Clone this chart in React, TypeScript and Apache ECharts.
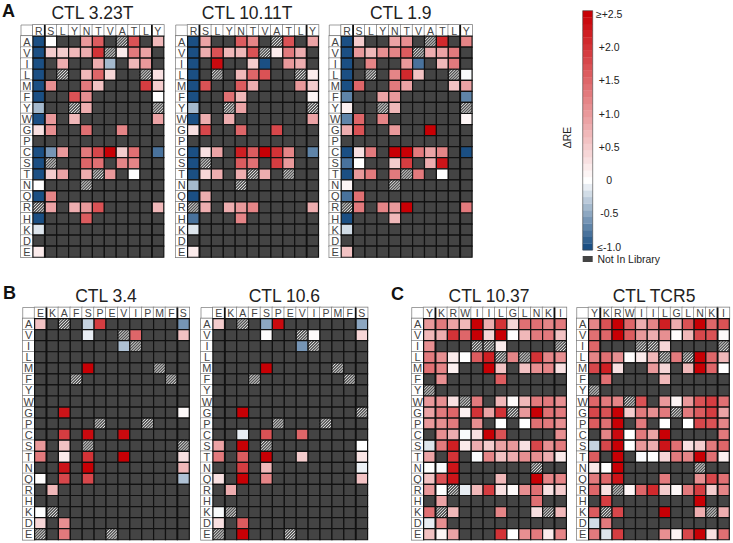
import React, { useEffect, useRef } from "react";
import * as echarts from "echarts";

const _ = null;
const X = "h";

const residues = ["A","V","I","L","M","F","Y","W","G","P","C","S","T","N","Q","R","H","K","D","E"];
const colsA = ["R","S","L","Y","N","T","V","A","T","L","Y"];
const colsB = ["E","K","A","F","S","P","E","V","I","P","M","F","S"];
const colsC = ["Y","K","R","W","I","I","L","G","L","N","K","I"];

const ctl323T = [
  [-1,0,_,_,1.0,1.6,_,X,1.7,_,0.7],
  [-1,0.5,0.5,0.7,0.8,2.0,X,0.2,1.3,0.9,_],
  [-1,_,0.8,_,_,0.8,-0.4,_,0.7,1.0,_],
  [-1,_,X,_,0.7,1.5,0.4,_,_,X,0.3],
  [-1,1.1,_,_,1.3,0.6,_,_,_,1.9,0.5],
  [-1,_,_,1.7,1.1,_,_,_,_,_,0],
  [-0.4,_,_,X,0.8,_,_,_,_,_,X],
  [-1,1.0,_,0.7,_,_,_,_,_,_,0.9],
  [0.3,1.1,_,_,1.4,_,_,1.2,_,_,_],
  [_,_,_,_,_,_,_,_,_,_,_],
  [-1,-0.6,1.0,_,1.3,1.8,2.5,0.5,1.4,_,-0.8],
  [-1,X,_,_,1.5,1.4,_,1.2,1.2,_,_],
  [-1,0.5,0.9,_,0.8,X,1.0,_,0,_,_],
  [0,_,_,_,X,_,_,_,_,_,_],
  [-1,1.2,_,_,_,_,_,_,_,_,_],
  [X,0.9,_,0.8,1.0,1.7,_,_,_,_,0.7],
  [-1,_,_,_,1.6,_,_,_,_,_,_],
  [-0.15,_,_,_,_,_,_,_,_,_,_],
  [_,_,_,_,_,_,_,_,_,_,_],
  [0.2,_,_,_,_,_,_,_,_,_,_],
];
const ctl1011T = [
  [-1,0.9,_,_,1.6,1.2,_,X,1.7,_,0.9],
  [-1,0.8,1.7,0.7,0.7,1.7,X,0.2,1.3,0.8,_],
  [-1,_,2.4,_,_,0.5,-1,_,1.0,0.8,_],
  [-1,_,X,_,0.7,1.5,1.7,_,_,X,0.2],
  [-1,1.7,_,_,1.6,0.8,_,_,_,1.0,0.5],
  [-1,_,_,1.4,0.7,_,_,_,_,_,0.1],
  [-0.4,_,_,X,0.9,_,_,_,_,_,X],
  [-1,0.8,_,0.8,_,_,_,_,_,_,0.9],
  [0.3,1.8,_,_,1.5,_,_,1.8,_,_,_],
  [_,_,_,_,_,_,_,_,_,_,_],
  [-1,0.3,0.9,_,2.2,1.6,2.5,2.0,1.2,_,-0.7],
  [-1,X,_,_,1.6,1.4,_,1.9,1.0,_,_],
  [-1,0.4,0.8,_,0.8,X,0.8,_,X,_,_],
  [-0.4,_,_,_,X,_,_,_,_,_,_],
  [-1,0.8,_,_,_,_,_,_,_,_,_],
  [X,0.8,_,0.8,1.0,1.2,_,_,_,_,0.8],
  [-0.8,_,_,_,1.2,_,_,_,_,_,_],
  [-0.15,_,_,_,_,_,_,_,_,_,_],
  [_,_,_,_,_,_,_,_,_,_,_],
  [0.2,_,_,_,_,_,_,_,_,_,_],
];
const ctl19 = [
  [-1,0.5,_,_,0.9,1.1,_,X,2.1,_,1.2],
  [-1,1.0,0.7,1.1,1.2,1.6,X,0.8,0.9,1.3,_],
  [-1,_,1.2,_,_,1.0,-0.8,_,0.7,1.3,_],
  [-1,_,X,_,1.2,2.1,0.6,_,_,X,-0.03],
  [-1,1.5,_,_,1.3,0.9,_,_,_,0.6,0.9],
  [-0.7,_,_,0.9,1.0,_,_,_,_,_,-0.7],
  [0.15,_,_,X,0.7,_,_,_,_,_,X],
  [-0.7,1.5,_,1.2,_,_,_,_,_,_,0.1],
  [0.8,1.7,_,_,1.0,_,_,2.5,_,_,_],
  [_,_,_,_,_,_,_,_,_,_,_],
  [-1,0.3,1.3,_,2.5,2.5,1.3,0.9,1.2,_,-1],
  [-0.8,0,_,_,0.5,1.9,_,0.8,2.3,_,_],
  [-1,1.0,1.3,_,1.3,X,1.3,_,0,_,_],
  [0.1,_,_,_,X,_,_,_,_,_,_],
  [-0.8,1.4,_,_,_,_,_,_,_,_,_],
  [X,1.3,_,1.2,1.0,2.5,_,_,_,_,1.3],
  [-1,_,_,_,0.7,_,_,_,_,_,_],
  [-0.2,_,_,_,_,_,_,_,_,_,_],
  [_,_,_,_,_,_,_,_,_,_,_],
  [0.6,_,_,_,_,_,_,_,_,_,_],
];
const ctl34 = [
  [0.6,_,X,_,-0.25,1.9,_,_,_,_,_,_,-0.6],
  [_,_,_,_,-0.1,_,_,X,1.5,_,_,_,0.6],
  [_,_,_,_,_,_,_,-0.35,X,_,_,_,_],
  [_,_,_,_,_,_,_,_,_,_,_,_,_],
  [_,_,_,_,2.5,_,_,_,_,_,X,_,_],
  [_,_,_,X,_,_,_,_,_,_,_,X,_],
  [_,_,_,_,_,_,_,_,_,_,_,_,_],
  [_,_,_,_,_,_,_,_,_,_,_,_,_],
  [_,_,2.3,_,_,_,_,_,_,_,_,_,0.05],
  [_,_,_,_,_,X,_,_,_,X,_,_,_],
  [_,_,1.9,_,2.4,_,_,2.4,_,_,_,_,_],
  [1.0,_,0.6,_,X,_,_,_,_,_,_,_,X],
  [1.3,_,0.2,_,2.0,_,_,2.5,_,_,_,_,0.3],
  [_,_,2.3,_,2.5,_,_,_,_,_,_,_,0.7],
  [0.02,_,1.8,_,1.8,_,_,_,_,_,_,_,-0.35],
  [_,0.7,_,_,_,_,_,_,_,_,_,_,_],
  [_,_,_,_,_,_,_,_,_,_,_,_,_],
  [0,X,_,_,_,_,_,_,_,_,_,_,_],
  [0.4,_,1.1,_,_,_,_,_,_,_,_,_,_],
  [X,_,1.3,_,_,_,X,_,_,_,_,_,_],
];
const ctl106 = [
  [0.5,_,X,_,-0.5,2.4,_,_,_,_,_,_,-0.5],
  [_,_,_,_,0.03,_,_,X,0.05,_,_,_,0.4],
  [_,_,_,_,_,_,_,-0.6,X,_,_,_,_],
  [_,_,_,_,_,_,_,_,_,_,_,_,_],
  [_,_,_,_,2.5,_,_,_,_,_,X,_,_],
  [_,_,_,X,_,_,_,_,_,_,_,X,_],
  [_,_,_,_,_,_,_,_,_,_,_,_,_],
  [_,_,_,_,_,_,_,_,_,_,_,_,_],
  [_,_,2.5,_,_,_,_,_,_,_,_,_,X],
  [_,_,_,_,_,X,_,_,_,X,_,_,_],
  [_,_,-0.1,_,1.7,_,_,1.5,_,_,_,_,_],
  [0.9,_,2.5,_,X,_,_,_,_,_,_,_,0],
  [1.3,_,1.6,_,2.5,_,_,0.5,_,_,_,_,0.25],
  [_,_,1.9,_,0.7,_,_,_,_,_,_,_,-0.08],
  [0.3,_,2.5,_,1.2,_,_,_,_,_,_,_,0.6],
  [_,0.8,_,_,_,_,_,_,_,_,_,_,_],
  [_,_,_,_,_,_,_,_,_,_,_,_,_],
  [-0.03,X,_,_,_,_,_,_,_,_,_,_,_],
  [0.3,_,1.6,_,_,_,_,_,_,_,_,_,_],
  [X,_,2.5,_,_,_,X,_,_,_,_,_,_],
];
const ctl1037 = [
  [1.0,1.3,0.9,0.7,2.5,0.8,2.0,0.4,1.4,1.4,1.2,1.3],
  [0.7,0.8,2.0,1.5,2.5,0.4,2.5,0,0.7,1.3,1.3,0.6],
  [1.1,_,_,_,X,X,0.2,_,_,_,_,X],
  [1.3,1.1,0.2,0,1.6,2.2,X,1.2,X,2.0,1.2,1.1],
  [1.4,1.2,0.15,_,_,2.5,0.6,_,0.6,1.1,1.2,0.3],
  [_,1.1,_,_,_,_,1.6,_,_,_,_,_],
  [X,_,_,_,_,_,_,_,_,_,_,_],
  [1.0,1.1,0.3,X,1.3,_,0.7,0.05,0.7,1.3,1.3,1.1],
  [0.9,1.3,1.5,0.15,2.0,0.9,2.0,X,1.0,2.5,1.4,1.3],
  [1.0,1.1,1.3,_,1.1,_,0,_,0,1.4,1.3,1.1],
  [_,1.1,0.8,-0.03,0.3,2.5,1.7,_,_,_,_,1.1],
  [-0.15,1.3,2.2,0.2,0.8,0.5,0.9,1.0,0.3,1.8,1.1,1.3],
  [0.9,_,2.0,_,-0.02,1.2,0.6,0.8,1.1,1.1,0.8,0.2],
  [0,-0.02,2.3,_,_,_,_,_,_,X,_,_],
  [0.6,1.7,2.3,_,_,_,0.7,_,_,2.5,1.2,1.2],
  [1.0,0,X,-0.1,0.7,1.9,0.3,0.05,1.1,1.4,0.3,0.5],
  [_,0.9,_,_,_,_,_,_,_,1.4,_,_],
  [1.4,X,0.7,_,_,_,1.2,_,_,0.3,X,0.7],
  [-0.1,1.1,_,_,_,_,_,_,_,_,_,_],
  [0.6,0.1,0.9,_,_,_,2.0,0,1.1,1.3,0.2,1.2],
];
const ctlTCR5 = [
  [1.2,1.7,2.5,1.5,0.8,1.2,2.2,0.8,1.7,2.5,1.5,1.7],
  [1.4,1.5,2.5,1.6,1.0,0.8,1.1,0.02,0.7,1.8,1.7,0.05],
  [1.5,_,_,_,X,X,0.4,_,_,_,_,X],
  [1.2,1.4,1.1,0.02,0.2,0.7,X,1.3,X,2.5,1.5,0.7],
  [1.8,2.2,0.3,_,_,1.0,0.4,_,0.7,2.5,1.5,0],
  [_,1.4,_,_,_,_,0.7,_,_,_,_,_],
  [X,_,_,_,_,_,_,_,_,_,_,_],
  [1.5,1.3,1.2,X,1.7,_,1.0,0.1,1.0,1.7,1.9,1.4],
  [1.8,1.7,2.5,0.5,1.3,1.1,1.3,X,1.3,1.6,1.9,0.9],
  [1.6,1.4,2.5,_,1.3,_,0,_,0,1.8,1.7,1.2],
  [_,1.2,2.4,0,1.3,0.9,2.5,_,_,_,_,1.3],
  [-0.25,1.8,2.5,0,1.0,0.8,2.3,1.4,0.3,0.5,1.3,1.5],
  [1.6,_,2.5,_,-0.02,0,0.4,1.3,1.2,2.5,1.4,0.15],
  [0.25,0,2.5,_,_,_,_,_,_,X,_,_],
  [1.3,1.5,2.3,_,_,_,1.3,_,_,1.1,1.8,1.4],
  [1.5,0.3,X,0.1,1.5,2.1,0.5,0.08,1.3,1.9,0.5,1.2],
  [_,1.9,_,_,_,_,_,_,_,2.5,_,_],
  [1.6,X,1.8,_,_,_,2.5,_,_,0.8,X,0.8],
  [-0.2,1.3,_,_,_,_,_,_,_,_,_,_],
  [1.3,-0.15,1.9,_,_,_,1.1,0.1,1.8,2.5,0.3,1.4],
];

const legendSteps = [-1,-0.9,-0.8,-0.7,-0.6,-0.5,-0.4,-0.3,-0.2,-0.1,0,0.1,0.2,0.3,0.4,0.5,0.6,0.7,0.8,0.9,1,1.1,1.2,1.3,1.4,1.5,1.6,1.7,1.8,1.9,2,2.1,2.2,2.3,2.4,2.5];
const legendTicks = ["≤-1.0","-0.5","0","+0.5","+1.0","+1.5","+2.0","≥+2.5"];

const FONT = "'Liberation Sans', Arial, sans-serif";
const CW = 11.9;
const CH = 11.06;
const NOT_IN_LIBRARY = "#444444";

const panels = [
  { title: "CTL 3.23T", cols: colsA, rows: ctl323T, left: 21, top: 25, seps: [0, 9] },
  { title: "CTL 10.11T", cols: colsA, rows: ctl1011T, left: 175.7, top: 25, seps: [0, 9] },
  { title: "CTL 1.9", cols: colsA, rows: ctl19, left: 329.3, top: 25, seps: [0, 9] },
  { title: "CTL 3.4", cols: colsB, rows: ctl34, left: 22.7, top: 307.5, seps: [0, 11] },
  { title: "CTL 10.6", cols: colsB, rows: ctl106, left: 201, top: 307.5, seps: [0, 11] },
  { title: "CTL 10.37", cols: colsC, rows: ctl1037, left: 411.7, top: 307.5, seps: [0, 10] },
  { title: "CTL TCR5", cols: colsC, rows: ctlTCR5, left: 576.7, top: 307.5, seps: [0, 10] },
];

function colorOf(v: number): string {
  const mix = (t: number, c: number[]) =>
    `rgb(${c.map((k) => Math.round(255 + (k - 255) * t)).join(",")})`;
  return v >= 0
    ? mix(Math.min(v / 2.5, 1), [200, 0, 5])
    : mix(Math.min(-v, 1), [27, 79, 131]);
}

function hatchLines(x: number, y: number, w: number, h: number) {
  const out: any[] = [];
  for (let s = 1.4; s < w + h; s += 2.9) {
    const ax = Math.min(s, w);
    const by = Math.min(s, h);
    out.push({
      type: "line",
      shape: { x1: x + ax, y1: y + s - ax, x2: x + s - by, y2: y + by },
      style: { stroke: "#e4e4e4", lineWidth: 1 },
      silent: true,
    });
  }
  return out;
}

function cellItem(params: any, api: any) {
  const p = api.coord([api.value(0), api.value(1)]);
  const s = api.size([1, 1]);
  const x = p[0] - s[0] / 2;
  const y = p[1] - s[1] / 2;
  const kind = api.value(3);
  const fill = kind === 0 ? colorOf(api.value(2)) : NOT_IN_LIBRARY;
  const rect = {
    type: "rect",
    shape: { x, y, width: s[0], height: s[1] },
    style: { fill, stroke: "#111111", lineWidth: 1.2 },
  };
  if (kind !== 2) return rect;
  return {
    type: "group",
    children: [
      { type: "rect", shape: rect.shape, style: { fill: "#555555" } },
      ...hatchLines(x, y, s[0], s[1]),
      { type: "rect", shape: rect.shape, style: { fill: "none", stroke: "#111111", lineWidth: 1.2 } },
    ],
  };
}

function sepItem(params: any, api: any) {
  const p = api.coord([api.value(0), 0]);
  const s = api.size([1, 1]);
  const x = p[0] + s[0] / 2;
  const top = p[1] - s[1] * 1.5;
  const bottom = top + s[1] * 21;
  return {
    type: "line",
    shape: { x1: x, y1: top, x2: x, y2: bottom },
    style: { stroke: "#111111", lineWidth: 1.8 },
  };
}

function stepItem(params: any, api: any) {
  const p = api.coord([0, api.value(1)]);
  const s = api.size([1, 0.1]);
  return {
    type: "rect",
    shape: { x: p[0] - s[0] / 2, y: p[1] - s[1] / 2, width: s[0], height: s[1] + 0.3 },
    style: { fill: colorOf(api.value(1)) },
  };
}

function buildOption() {
  const grid: any[] = [];
  const xAxis: any[] = [];
  const yAxis: any[] = [];
  const series: any[] = [];
  const title: any[] = [];
  const graphic: any[] = [];
  const boxLabel = {
    interval: 0,
    color: "#444444",
    fontFamily: FONT,
    fontSize: 10.5,
    width: CW,
    height: CH,
    lineHeight: CH,
    align: "center",
    verticalAlign: "middle",
    backgroundColor: "#ffffff",
    borderColor: "#777777",
    borderWidth: 0.7,
    padding: 0,
    overflow: "none",
  };
  panels.forEach((pn, i) => {
    const n = pn.cols.length;
    grid.push({
      left: pn.left + CW,
      top: pn.top + CH,
      width: n * CW,
      height: 20 * CH,
      show: false,
    });
    xAxis.push({
      type: "category",
      gridIndex: i,
      position: "top",
      data: pn.cols.map((c, k) => ({ value: `${c}${k}` })),
      axisLine: { show: false },
      axisTick: { show: false },
      splitLine: { show: false },
      axisLabel: {
        ...boxLabel,
        margin: 0,
        verticalAlign: "bottom",
        formatter: (v: string) => v[0],
      },
    });
    yAxis.push({
      type: "category",
      gridIndex: i,
      inverse: true,
      data: residues,
      axisLine: { show: false },
      axisTick: { show: false },
      splitLine: { show: false },
      axisLabel: { ...boxLabel, margin: CW / 2, fontSize: 11 },
    });
    const data: any[] = [];
    pn.rows.forEach((row: any[], r) =>
      row.forEach((v, c) => {
        if (v === _) data.push([c, r, 0, 1]);
        else if (v === X) data.push([c, r, 0, 2]);
        else data.push([c, r, v, 0]);
      })
    );
    series.push({
      type: "custom",
      xAxisIndex: i,
      yAxisIndex: i,
      renderItem: cellItem,
      data,
      silent: true,
      z: 5,
    });
    series.push({
      type: "custom",
      xAxisIndex: i,
      yAxisIndex: i,
      renderItem: sepItem,
      data: pn.seps.map((c) => [c]),
      silent: true,
      z: 6,
    });
    title.push({
      text: pn.title,
      left: pn.left + ((n + 1) * CW) / 2,
      top: pn.top - (i < 3 ? 21 : 21),
      textAlign: "center",
      textStyle: { fontFamily: FONT, fontSize: 17.5, fontWeight: "normal", color: "#222222" },
      padding: 0,
    });
    graphic.push({
      type: "rect",
      shape: { x: pn.left, y: pn.top, width: CW, height: CH },
      style: { fill: "#ffffff", stroke: "#777777", lineWidth: 0.7 },
      silent: true,
    });
  });

  [["A", 2, 2], ["B", 3, 284], ["C", 391, 285]].forEach(([text, left, top]) => {
    title.push({
      text,
      left,
      top,
      padding: 0,
      textStyle: { fontFamily: FONT, fontSize: 18, fontWeight: "bold", color: "#111111" },
    });
  });

  const bar = grid.length;
  grid.push({ left: 582.7, width: 10, top: 14, height: 232.7, show: false });
  xAxis.push({ type: "category", gridIndex: bar, data: [""], show: false });
  yAxis.push({
    type: "value",
    gridIndex: bar,
    position: "right",
    min: -1,
    max: 2.5,
    interval: 0.5,
    axisLine: { show: false },
    axisTick: { show: false },
    splitLine: { show: false },
    axisLabel: {
      margin: 16.5,
      align: "center",
      color: "#222222",
      fontFamily: FONT,
      fontSize: 10.5,
      formatter: (v: number) => legendTicks[Math.round((v + 1) * 2)],
    },
  });
  series.push({
    type: "custom",
    xAxisIndex: bar,
    yAxisIndex: bar,
    renderItem: stepItem,
    data: legendSteps.map((v) => [0, v]),
    silent: true,
    z: 5,
  });
  graphic.push(
    {
      type: "rect",
      z: 10,
      shape: { x: 582.7, y: 10.7, width: 10, height: 239.3 },
      style: { fill: "none", stroke: "#444444", lineWidth: 0.6 },
      silent: true,
    },
    {
      type: "rect",
      shape: { x: 582.7, y: 256, width: 10, height: 6 },
      style: { fill: NOT_IN_LIBRARY },
      silent: true,
    },
    {
      type: "text",
      x: 597.5,
      y: 259,
      style: {
        text: "Not In Library",
        fill: "#222222",
        font: `10.4px ${FONT}`,
        verticalAlign: "middle",
      },
      silent: true,
    },
    {
      type: "text",
      x: 566.5,
      y: 137.5,
      rotation: Math.PI / 2,
      style: {
        text: "ΔRE",
        fill: "#222222",
        font: `10.5px ${FONT}`,
        align: "center",
        verticalAlign: "middle",
      },
      silent: true,
    }
  );

  return { animation: false, backgroundColor: "#ffffff", grid, xAxis, yAxis, series, title, graphic };
}

export default function App() {
  const ref = useRef<HTMLDivElement>(null);
  useEffect(() => {
    const chart = echarts.init(ref.current, undefined, { renderer: "svg" });
    chart.setOption(buildOption() as any);
    return () => chart.dispose();
  }, []);
  return (
    <div
      ref={ref}
      style={{ position: "absolute", left: 0, top: 0, width: 733, height: 543 }}
    />
  );
}
